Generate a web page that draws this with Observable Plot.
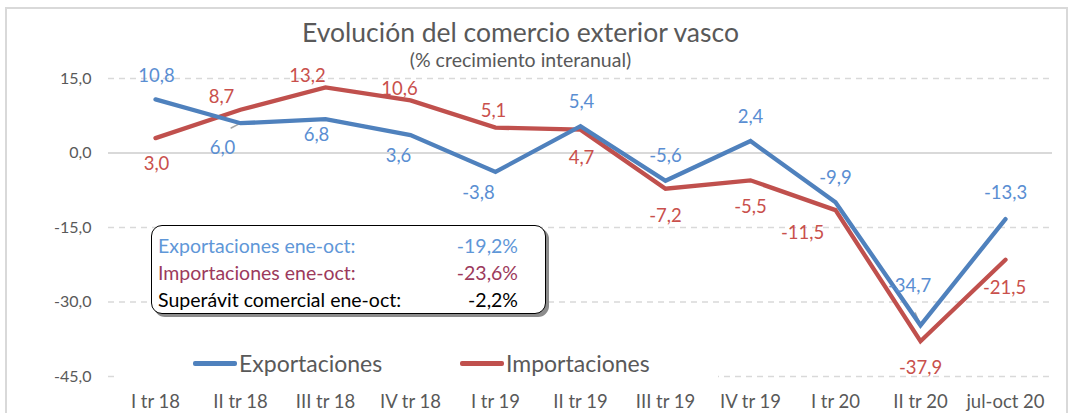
<!DOCTYPE html>
<html><head><meta charset="utf-8">
<script src="https://cdn.jsdelivr.net/npm/d3@7"></script>
<script src="https://cdn.jsdelivr.net/npm/@observablehq/plot@0.6"></script>
<style>
html,body{margin:0;padding:0;background:#fff;}
#wrap{position:relative;width:1073px;height:413px;overflow:hidden;font-family:Lato,sans-serif;}
#frame{position:absolute;left:5px;top:7px;width:1063px;height:430px;border:2px solid #d9d9d9;box-sizing:border-box;pointer-events:none;}
#box{position:absolute;left:151px;top:225px;width:395px;height:89px;border:1.5px solid #000;border-radius:11px;box-sizing:border-box;background:#fff;box-shadow:3px 3px 0 #8c8c8c;}
.row{position:absolute;left:6px;right:27px;height:27px;line-height:27px;font-size:19.5px;}
.row .v{position:absolute;right:0;top:0;}
#legend{position:absolute;left:114px;top:347px;width:604px;height:32px;background:#fff;}
.lg{position:absolute;top:0;height:32px;line-height:32px;font-size:23px;color:#595959;}
.sw{position:absolute;top:14px;width:44px;height:5px;border-radius:2px;}
</style></head>
<body><div id="wrap"></div>
<script>
const categories = ["I tr 18","II tr 18","III tr 18","IV tr 18","I tr 19","II tr 19","III tr 19","IV tr 19","I tr 20","II tr 20","jul-oct 20"];
const exportaciones = [10.8, 6.0, 6.8, 3.6, -3.8, 5.4, -5.6, 2.4, -9.9, -34.7, -13.3];
const importaciones = [3.0, 8.7, 13.2, 10.6, 5.1, 4.7, -7.2, -5.5, -11.5, -37.9, -21.5];
const yTicks = [15, 0, -15, -30, -45];
const seriesNames = ["Exportaciones", "Importaciones"];
const summaryLabels = ["Exportaciones ene-oct:", "Importaciones ene-oct:", "Superávit comercial ene-oct:"];
const summaryValues = ["-19,2%", "-23,6%", "-2,2%"];
const title = "Evolución del comercio exterior vasco";
const subtitle = "(% crecimiento interanual)";

// layout: label offsets (px) per point
const expOffsets = [[1,-23],[-18,25],[-9,16],[-12,21],[-17,21],[1,-24],[0,-25],[0,-24],[0,-24],[-11,-39],[0,-26]];
const impOffsets = [[1,26],[-19,-13],[-18,-11],[-11,-11],[-2,-17],[1,28],[0,27],[0,27],[-33,23],[0,27],[-1,28]];
const leaders = [{series:0, i:1, angle:243, len:21}, {series:0, i:9, angle:337, len:27}];

const COL = {exp:"#4f81bd", imp:"#c0504d", expLab:"#5a8ed2", impLab:"#c9504c", grid:"#d9d9d9", text:"#595959"};
const fmt = v => v.toFixed(1).replace(".", ",");

const rows = [];
categories.forEach((c,i) => {
  rows.push({cat:c, value:exportaciones[i], series:seriesNames[0], i});
  rows.push({cat:c, value:importaciones[i], series:seriesNames[1], i});
});
const expRows = rows.filter(d => d.series === seriesNames[0]);
const impRows = rows.filter(d => d.series === seriesNames[1]);

const labelMarks = [];
expRows.forEach((d,k) => labelMarks.push(Plot.text([d], {x:"cat", y:"value", text:d => fmt(d.value), dx:expOffsets[k][0], dy:expOffsets[k][1], fill:COL.expLab, fontSize:18.5, fontFamily:"Lato"})));
impRows.forEach((d,k) => labelMarks.push(Plot.text([d], {x:"cat", y:"value", text:d => fmt(d.value), dx:impOffsets[k][0], dy:impOffsets[k][1], fill:COL.impLab, fontSize:18.5, fontFamily:"Lato"})));

const leaderData = leaders.map(l => ({...(l.series === 0 ? expRows : impRows)[l.i], angle:l.angle, len:l.len}));
const lineShape = {draw(ctx, l) { ctx.moveTo(0, 0); ctx.lineTo(0, -l); }};

const chart = Plot.plot({
  width: 1073, height: 413,
  marginLeft: 108, marginRight: 21, marginTop: 78, marginBottom: 37,
  style: {fontFamily: "Lato", background: "transparent", overflow: "visible"},
  x: {type: "point", domain: categories, padding: 0.5},
  y: {domain: [-45, 15]},
  marks: [
    Plot.ruleY(yTicks.filter(t => t !== 0), {stroke: COL.grid, strokeWidth: 1.3, strokeDasharray: "6,5"}),
    Plot.ruleY([0], {stroke: COL.grid, strokeWidth: 2}),
    Plot.axisY({ticks: yTicks, tickSize: 0, tickPadding: 17, tickFormat: fmt, fontSize: 16, color: COL.text, label: null}),
    Plot.axisX({tickSize: 0, tickPadding: 18, fontSize: 18.5, color: COL.text, label: null}),
    Plot.vector(leaderData, {x: "cat", y: "value", rotate: "angle", length: "len", anchor: "start", shape: lineShape, stroke: "#a6a6a6", strokeWidth: 1.5}),
    Plot.line(impRows, {x: "cat", y: "value", stroke: COL.imp, strokeWidth: 4.3, strokeLinejoin: "miter", strokeMiterlimit: 2}),
    Plot.line(expRows, {x: "cat", y: "value", stroke: COL.exp, strokeWidth: 4.3, strokeLinejoin: "miter", strokeMiterlimit: 2}),
    ...labelMarks,
    Plot.text([title], {frameAnchor: "top", lineAnchor: "middle", text: d => d, dx: -60, dy: -44.5, fontSize: 26.5, fill: COL.text, fontFamily: "Lato"}),
    Plot.text([subtitle], {frameAnchor: "top", lineAnchor: "middle", text: d => d, dx: -60, dy: -18, fontSize: 19.5, fill: COL.text, fontFamily: "Lato"})
  ]
});

const wrap = document.getElementById("wrap");
wrap.appendChild(chart);

const frame = document.createElement("div"); frame.id = "frame"; wrap.appendChild(frame);

const box = document.createElement("div"); box.id = "box";
const boxColors = ["#5f97d8", "#9c3a5c", "#000"];
summaryLabels.forEach((t, k) => {
  const r = document.createElement("div"); r.className = "row";
  r.style.top = (6 + k * 27) + "px"; r.style.color = boxColors[k];
  r.textContent = t;
  const v = document.createElement("span"); v.className = "v"; v.textContent = summaryValues[k];
  r.appendChild(v); box.appendChild(r);
});
wrap.appendChild(box);

const legend = document.createElement("div"); legend.id = "legend";
const lgPos = [79, 346];
seriesNames.forEach((n, k) => {
  const sw = document.createElement("div"); sw.className = "sw";
  sw.style.left = lgPos[k] + "px"; sw.style.background = k === 0 ? COL.exp : COL.imp;
  const tx = document.createElement("div"); tx.className = "lg";
  tx.style.left = (lgPos[k] + 46) + "px"; tx.textContent = n;
  legend.appendChild(sw); legend.appendChild(tx);
});
wrap.appendChild(legend);
</script></body></html>
